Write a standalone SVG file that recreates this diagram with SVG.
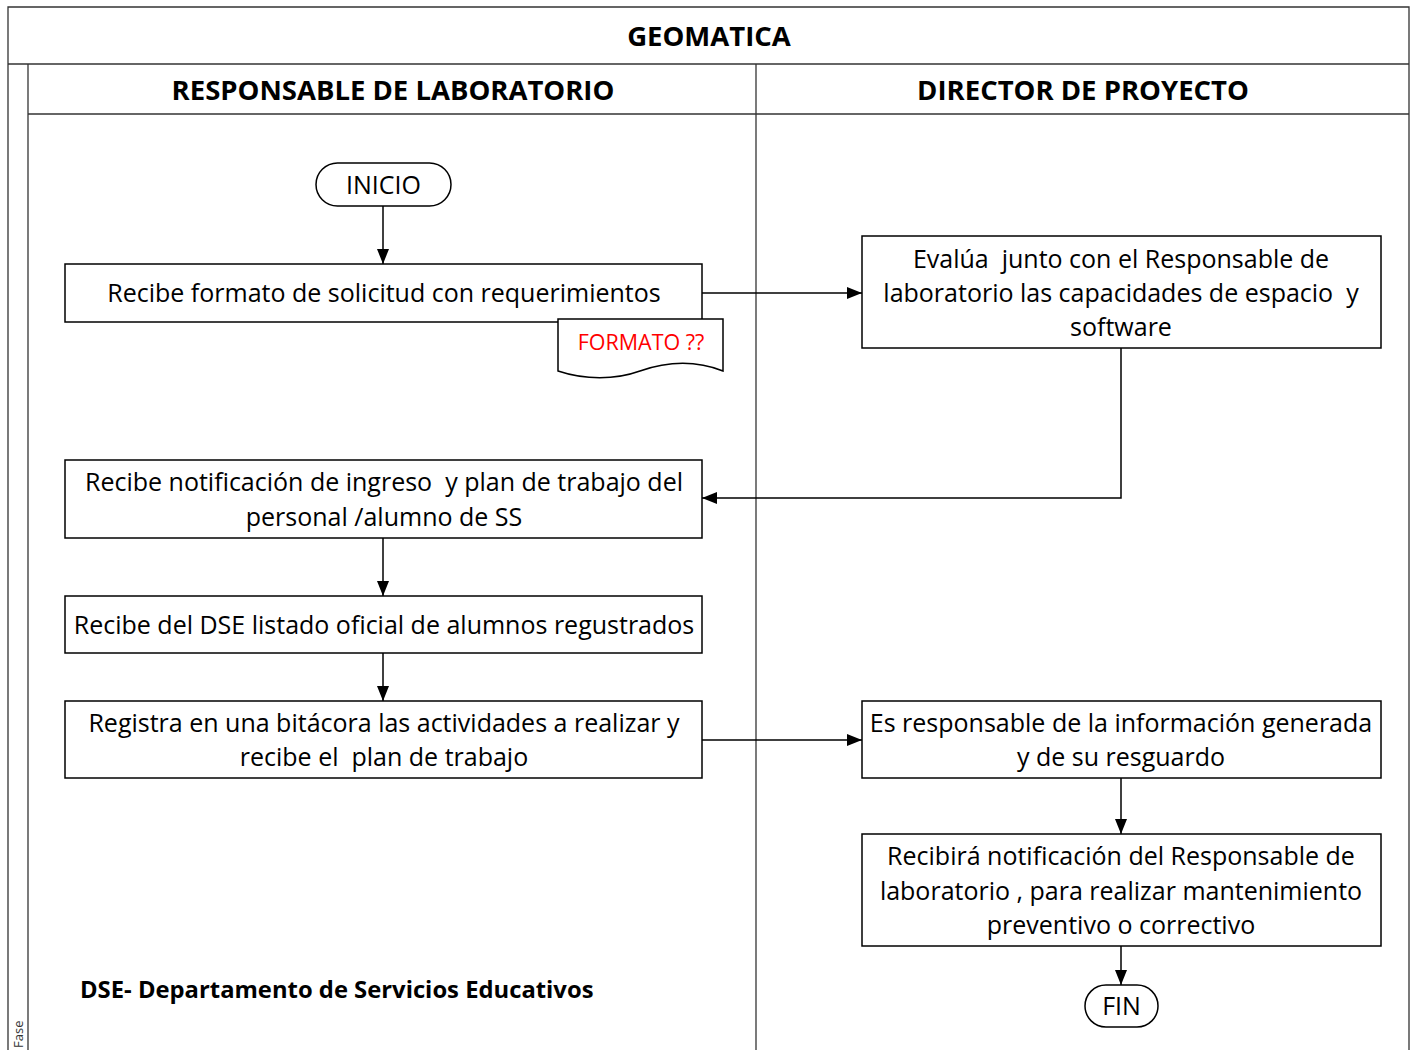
<svg xmlns="http://www.w3.org/2000/svg" width="1416" height="1050" viewBox="0 0 1416 1050">
<style>
.fr{stroke:#333;stroke-width:1.3;fill:none}
.box{stroke:#000;stroke-width:1.5;fill:#fff}
.t{font-family:"Open Sans","Liberation Sans",Arial,sans-serif;font-size:25px;fill:#000;text-anchor:middle;white-space:pre}
.h{font-family:"Open Sans","Liberation Sans",Arial,sans-serif;font-size:27.5px;font-weight:bold;fill:#000;text-anchor:middle}
.c{stroke:#000;stroke-width:1.5;fill:none;marker-end:url(#ah)}
</style>
<defs>
<marker id="ah" markerWidth="15" markerHeight="12" refX="15" refY="6" orient="auto" markerUnits="userSpaceOnUse">
<path d="M0,0 L15,6 L0,12 Z" fill="#000"/>
</marker>
</defs>
<rect width="1416" height="1050" fill="#fff"/>
<g id="frame">
<path class="fr" d="M8,1050 V7 H1409 V1050"/>
<line class="fr" x1="8" y1="64" x2="1409" y2="64"/>
<line class="fr" x1="28" y1="64" x2="28" y2="1050"/>
<line class="fr" x1="28" y1="114" x2="1409" y2="114"/>
<line class="fr" x1="756" y1="64" x2="756" y2="1050"/>
<text class="h" x="709" y="46">GEOMATICA</text>
<text class="h" x="393" y="100">RESPONSABLE DE LABORATORIO</text>
<text class="h" x="1083" y="100">DIRECTOR DE PROYECTO</text>
<text font-family="Open Sans,Liberation Sans,Arial,sans-serif" font-size="13" fill="#333" transform="translate(23,1048) rotate(-90)">Fase</text>
</g>
<g id="connectors">
<line class="c" x1="383" y1="206" x2="383" y2="264"/>
<line class="c" x1="702" y1="293" x2="862" y2="293"/>
<path class="c" d="M1121,348 V498 H702"/>
<line class="c" x1="383" y1="538" x2="383" y2="596"/>
<line class="c" x1="383" y1="653" x2="383" y2="701"/>
<line class="c" x1="702" y1="740" x2="862" y2="740"/>
<line class="c" x1="1121" y1="778" x2="1121" y2="834"/>
<line class="c" x1="1121" y1="946" x2="1121" y2="985"/>
</g>
<g id="inicio">
<rect class="box" x="316" y="163" width="135" height="43" rx="21.5"/>
<text class="t" x="383.5" y="194">INICIO</text>
</g>
<g id="recibe-formato">
<rect class="box" x="65" y="264" width="637" height="58"/>
<text class="t" x="384" y="302">Recibe formato de solicitud con requerimientos</text>
</g>
<g id="formato-doc">
<path class="box" d="M558,319 H723 V371 C690,358 660,364 640,371 C615,380 585,380 558,371 Z"/>
<text x="641" y="350" font-family="Open Sans,Liberation Sans,Arial,sans-serif" font-size="21.5" fill="#ff0000" text-anchor="middle">FORMATO ??</text>
</g>
<g id="evalua">
<rect class="box" x="862" y="236" width="519" height="112"/>
<text class="t" x="1121" y="268" xml:space="preserve">Evalúa  junto con el Responsable de</text>
<text class="t" x="1121" y="302" xml:space="preserve">laboratorio las capacidades de espacio  y</text>
<text class="t" x="1121" y="336">software</text>
</g>
<g id="recibe-notificacion">
<rect class="box" x="65" y="460" width="637" height="78"/>
<text class="t" x="384" y="491" xml:space="preserve">Recibe notificación de ingreso  y plan de trabajo del</text>
<text class="t" x="384" y="526">personal /alumno de SS</text>
</g>
<g id="recibe-dse">
<rect class="box" x="65" y="596" width="637" height="57"/>
<text class="t" x="384" y="634">Recibe del DSE listado oficial de alumnos regustrados</text>
</g>
<g id="registra">
<rect class="box" x="65" y="701" width="637" height="77"/>
<text class="t" x="384" y="732">Registra en una bitácora las actividades a realizar y</text>
<text class="t" x="384" y="766" xml:space="preserve">recibe el  plan de trabajo</text>
</g>
<g id="responsable-info">
<rect class="box" x="862" y="701" width="519" height="77"/>
<text class="t" x="1121" y="732">Es responsable de la información generada</text>
<text class="t" x="1121" y="766">y de su resguardo</text>
</g>
<g id="recibira">
<rect class="box" x="862" y="834" width="519" height="112"/>
<text class="t" x="1121" y="865">Recibirá notificación del Responsable de</text>
<text class="t" x="1121" y="900">laboratorio , para realizar mantenimiento</text>
<text class="t" x="1121" y="934">preventivo o correctivo</text>
</g>
<g id="fin">
<rect class="box" x="1085" y="985" width="73" height="42" rx="21"/>
<text class="t" x="1121.5" y="1015">FIN</text>
</g>
<g id="nota">
<text x="80" y="998" font-family="Open Sans,Liberation Sans,Arial,sans-serif" font-size="23.8" font-weight="bold" fill="#000">DSE- Departamento de Servicios Educativos</text>
</g>
</svg>
